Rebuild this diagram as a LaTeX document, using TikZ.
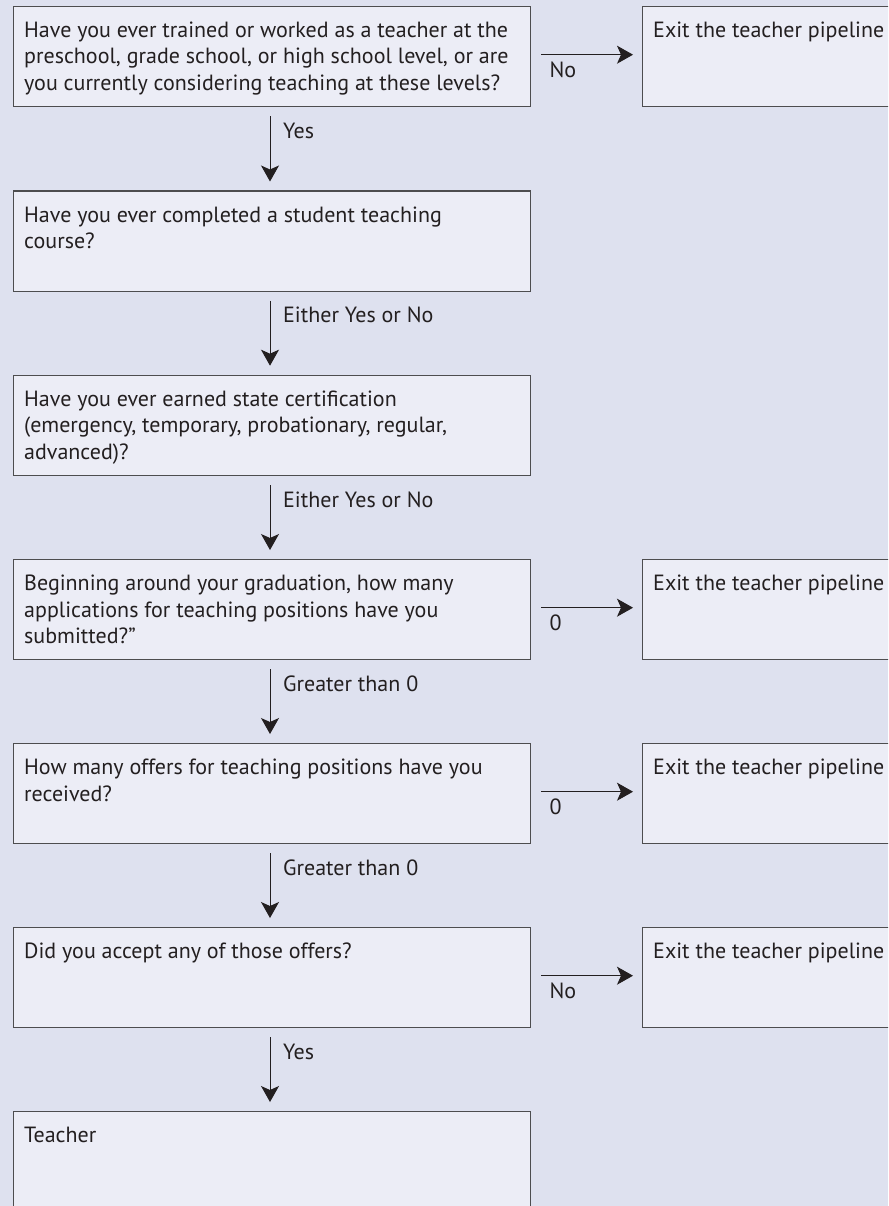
\documentclass[tikz,border=0pt]{standalone}
\usepackage{fontspec}
\setmainfont{PT Sans}
\usetikzlibrary{arrows.meta,calc}
\definecolor{bg}{HTML}{DEE1EF}
\definecolor{boxfill}{HTML}{ECEDF6}
\definecolor{edge}{HTML}{4D4D4F}
\definecolor{ink}{HTML}{231F20}
\begin{document}
\begin{tikzpicture}[x=1pt,y=-1pt,
  qbox/.style={draw=edge, line width=1.4pt, fill=boxfill, rectangle, minimum width=517pt, minimum height=100pt, anchor=north west, inner sep=0pt},
  ebox/.style={qbox, minimum width=270pt},
  txt/.style={anchor=base west, align=left, font=\fontsize{22}{26.3}\selectfont, text=ink, inner sep=0pt},
  flow/.style={draw=ink, line width=1pt, -{Stealth[length=16pt,width=18pt,inset=4pt]}}]
\fill[bg] (0,0) rectangle (888,1206);
\useasboundingbox (0,0) rectangle (888,1206);
\clip (0,0) rectangle (888,1206);
% question boxes
\node[qbox] (q1) at (13,6) {};
\node[qbox] (q2) at (13,190.5) {};
\node[qbox] (q3) at (13,374.7) {};
\node[qbox] (q4) at (13,559) {};
\node[qbox] (q5) at (13,743) {};
\node[qbox] (q6) at (13,927) {};
\node[qbox] (q7) at (13,1111) {};
% exit boxes
\node[ebox] (e1) at (642,6) {};
\node[ebox] (e4) at (642,559) {};
\node[ebox] (e5) at (642,743) {};
\node[ebox] (e6) at (642,927) {};
% texts (anchored at the baseline of their last line)
\node[txt] (t1) at (24,90.3) {Have you ever trained or worked as a teacher at the\\preschool, grade school, or high school level, or are\\you currently considering teaching at these levels?};
\node[txt] (t2) at (24,248.5) {Have you ever completed a student teaching\\course?};
\node[txt] (t3) at (24,459.0) {Have you ever earned state certification\\(emergency, temporary, probationary, regular,\\advanced)?};
\node[txt] (t4) at (24,643.3) {Beginning around your graduation, how many\\applications for teaching positions have you\\submitted?”};
\node[txt] (t5) at (24,801.0) {How many offers for teaching positions have you\\received?};
\node[txt] (t6) at (24,958.7) {Did you accept any of those offers?};
\node[txt] (t7) at (24,1142.7) {Teacher};
\node[txt] (x1) at (653,37.7) {Exit the teacher pipeline};
\node[txt] (x4) at (653,590.7) {Exit the teacher pipeline};
\node[txt] (x5) at (653,774.7) {Exit the teacher pipeline};
\node[txt] (x6) at (653,958.7) {Exit the teacher pipeline};
% vertical arrows
\foreach \a/\b/\l in {q1/q2/Yes, q2/q3/Either Yes or No, q3/q4/Either Yes or No, q4/q5/Greater than 0, q5/q6/Greater than 0, q6/q7/Yes}{
  \draw[flow] ($(\a.south west)+(257,9)$) -- ($(\b.north west)+(257,-9)$);
  \node[txt] (l-\a) at ($(\a.south west)+(270,31)$) {\l};
}
% horizontal arrows
\foreach \a/\b/\l in {q1/e1/No, q4/e4/0, q5/e5/0, q6/e6/No}{
  \draw[flow] ($(\a.east)+(10,-2)$) -- ($(\b.west)+(-9,-2)$);
  \node[txt] (h-\a) at ($(\a.east)+(18,21)$) {\l};
}
\end{tikzpicture}
\end{document}
